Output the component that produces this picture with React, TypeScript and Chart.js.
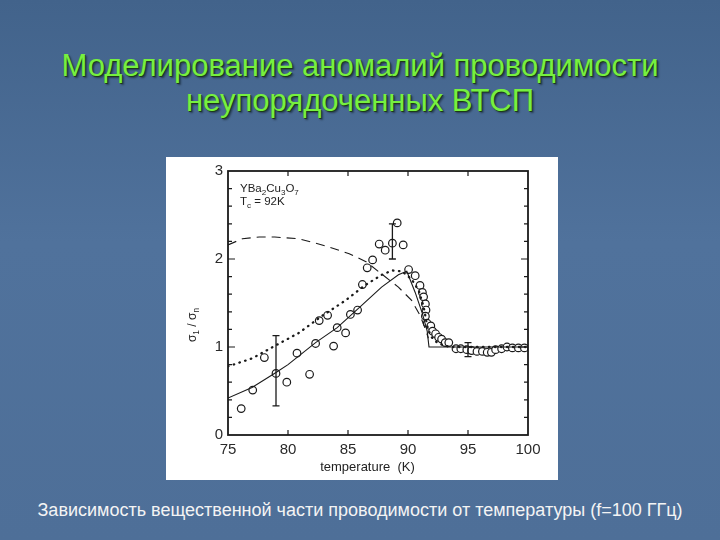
import React, { useEffect, useRef } from 'react';
import { Chart, registerables } from 'chart.js';

Chart.register(...registerables);

// measured circles
const obsT = [76.1, 77.06, 78.03, 79.0, 79.9, 80.75, 81.8, 82.3, 82.6, 83.3, 83.8, 84.1, 84.8, 85.2, 85.8, 86.2, 86.6, 87.05, 87.6, 88.1, 88.7, 89.1, 89.6, 90.05, 90.6, 91.0, 91.2, 91.3, 91.45, 91.5, 91.45, 91.6, 91.9, 92.05, 92.3, 92.55, 92.8, 93.1, 93.4, 94.0, 94.4, 94.9, 95.3, 95.75, 96.2, 96.6, 96.95, 97.3, 97.8, 98.25, 98.7, 99.2, 99.7];
const obsS = [0.30, 0.51, 0.88, 0.70, 0.60, 0.93, 0.69, 1.04, 1.30, 1.36, 1.01, 1.22, 1.16, 1.37, 1.42, 1.71, 1.90, 1.99, 2.17, 2.10, 2.18, 2.41, 2.16, 1.88, 1.81, 1.70, 1.62, 1.57, 1.49, 1.42, 1.35, 1.27, 1.24, 1.18, 1.15, 1.11, 1.09, 1.05, 1.05, 0.98, 0.98, 0.97, 0.96, 0.95, 0.95, 0.94, 0.94, 0.97, 0.98, 1.00, 0.99, 0.99, 0.99];

// solid theory curve
const solidT = [75, 77, 79, 80, 82.3, 84.1, 85.8, 87.8, 89.2, 89.9, 90.6, 91.2, 91.6, 91.75, 100];
const solidS = [0.42, 0.54, 0.71, 0.80, 1.05, 1.22, 1.43, 1.68, 1.82, 1.86, 1.62, 1.38, 1.18, 1.0, 1.0];

// dotted theory curve
const dottedT = [75, 77, 79, 80.9, 82.8, 84.8, 86.4, 87.8, 88.7, 89.5, 90.3, 90.9, 91.3, 91.6, 91.9, 92.5, 93.5, 100];
const dottedS = [0.78, 0.87, 1.02, 1.16, 1.35, 1.53, 1.70, 1.82, 1.87, 1.86, 1.77, 1.64, 1.46, 1.24, 1.12, 1.04, 1.0, 1.0];

// dashed theory curve
const dashedT = [75, 76.2, 77.6, 78.9, 80.9, 83.1, 85.1, 86.5, 87.8, 89.2, 90.3, 91.0, 91.4, 91.7];
const dashedS = [2.16, 2.23, 2.25, 2.25, 2.23, 2.15, 2.06, 1.97, 1.83, 1.68, 1.53, 1.36, 1.22, 1.10];

// error bars
const errT = [79.0, 88.7, 95.0];
const errLo = [0.33, 2.0, 0.89];
const errHi = [1.13, 2.4, 1.05];

const xMin = 75, xMax = 100, xStep = 5;
const yMin = 0, yMax = 3, yStep = 0.2;

const titleLines = ['Моделирование аномалий проводимости', 'неупорядоченных ВТСП'];
const caption = 'Зависимость вещественной части проводимости от температуры (f=100 ГГц)';
const xTitle = 'temperature  (K)';
const compound: [string, number][] = [['YBa', 0], ['2', 1], ['Cu', 0], ['3', 1], ['O', 0], ['7', 1]];
const tcLabel: [string, number][] = [['T', 0], ['c', 1], [' = 92K', 0]];
const yTitle: [string, number][] = [['σ', 0], ['1', 1], [' / ', 0], ['σ', 0], ['n', 1]];

const FONT = '"Liberation Sans", Arial, sans-serif';
const INK = '#1a1a1a';

function drawSegs(ctx: CanvasRenderingContext2D, segs: [string, number][], x: number, y: number, size: number) {
  let cx = x;
  segs.forEach(([t, sub]) => {
    const s = sub ? size * 0.7 : size;
    ctx.font = `${s}px ${FONT}`;
    ctx.fillText(t, cx, y + (sub ? size * 0.25 : 0));
    cx += ctx.measureText(t).width;
  });
  return cx - x;
}

function segWidth(ctx: CanvasRenderingContext2D, segs: [string, number][], size: number) {
  let w = 0;
  segs.forEach(([t, sub]) => {
    ctx.font = `${sub ? size * 0.7 : size}px ${FONT}`;
    w += ctx.measureText(t).width;
  });
  return w;
}

const framePlugin = {
  id: 'frame',
  afterDatasetsDraw(chart: any) {
    const { ctx, chartArea: a, scales } = chart;
    const x = scales.x, y = scales.y;
    ctx.save();
    ctx.strokeStyle = INK;
    ctx.fillStyle = INK;
    // error bars
    ctx.lineWidth = 1.3;
    errT.forEach((t, i) => {
      const px = x.getPixelForValue(t);
      const p1 = y.getPixelForValue(errLo[i]);
      const p2 = y.getPixelForValue(errHi[i]);
      ctx.beginPath();
      ctx.moveTo(px, p1); ctx.lineTo(px, p2);
      ctx.moveTo(px - 3.5, p1); ctx.lineTo(px + 3.5, p1);
      ctx.moveTo(px - 3.5, p2); ctx.lineTo(px + 3.5, p2);
      ctx.stroke();
    });
    // frame
    ctx.lineWidth = 1.8;
    ctx.strokeRect(a.left, a.top, a.right - a.left, a.bottom - a.top);
    // inward ticks
    ctx.lineWidth = 1.2;
    ctx.beginPath();
    y.ticks.forEach((t: any) => {
      const py = y.getPixelForValue(t.value);
      if (py <= a.top + 1 || py >= a.bottom - 1) return;
      const major = Math.abs(t.value - Math.round(t.value)) < 1e-6;
      const len = major ? 7 : 4;
      ctx.moveTo(a.left, py); ctx.lineTo(a.left + len, py);
      ctx.moveTo(a.right, py); ctx.lineTo(a.right - len, py);
    });
    x.ticks.forEach((t: any) => {
      const px = x.getPixelForValue(t.value);
      if (px <= a.left + 1 || px >= a.right - 1) return;
      ctx.moveTo(px, a.bottom); ctx.lineTo(px, a.bottom - 5);
      ctx.moveTo(px, a.top); ctx.lineTo(px, a.top + 5);
    });
    ctx.stroke();
    // annotation
    ctx.fillStyle = '#222';
    ctx.textBaseline = 'alphabetic';
    ctx.textAlign = 'left';
    drawSegs(ctx, compound, a.left + 12, a.top + 21, 11.5);
    drawSegs(ctx, tcLabel, a.left + 12, a.top + 34, 11.5);
    // x title
    ctx.font = `13px ${FONT}`;
    ctx.textAlign = 'center';
    ctx.fillText(xTitle, a.left + (a.right - a.left) * 0.465, a.bottom + 36);
    // y title
    ctx.save();
    const w = segWidth(ctx, yTitle, 12);
    ctx.translate(a.left - 32, (a.top + a.bottom) / 2 + 22);
    ctx.rotate(-Math.PI / 2);
    ctx.textAlign = 'left';
    drawSegs(ctx, yTitle, -w / 2, 0, 12);
    ctx.restore();
    ctx.restore();
  },
};

export default function App() {
  const ref = useRef<HTMLCanvasElement | null>(null);
  useEffect(() => {
    if (!ref.current) return;
    const pts = (xs: number[], ys: number[]) => xs.map((v, i) => ({ x: v, y: ys[i] }));
    const chart = new Chart(ref.current, {
      type: 'scatter',
      data: {
        datasets: [
          {
            data: pts(dashedT, dashedS), showLine: true, borderColor: INK, borderWidth: 1.1,
            borderDash: [9, 6], pointRadius: 0, tension: 0,
          },
          {
            data: pts(dottedT, dottedS), showLine: true, borderColor: INK, borderWidth: 2.3,
            borderDash: [0.5, 5.5], borderCapStyle: 'round', pointRadius: 0, tension: 0,
          },
          {
            data: pts(solidT, solidS), showLine: true, borderColor: INK, borderWidth: 1.1,
            pointRadius: 0, tension: 0,
          },
          {
            data: pts(obsT, obsS), showLine: false, pointStyle: 'circle', pointRadius: 3.8,
            pointBorderWidth: 1.2, pointBorderColor: INK, pointBackgroundColor: '#fff',
          },
        ] as any,
      },
      options: {
        animation: false,
        responsive: false,
        devicePixelRatio: 1,
        layout: { padding: { top: 7, right: 30, left: 0, bottom: 0 } },
        plugins: { legend: { display: false }, tooltip: { enabled: false } },
        scales: {
          x: {
            type: 'linear', min: xMin, max: xMax,
            grid: { display: false, drawTicks: false },
            border: { display: false },
            ticks: { stepSize: xStep, padding: 6, color: '#2a2a2a', font: { family: FONT, size: 15 } },
            afterFit: (s: any) => { s.height = 45; },
          },
          y: {
            type: 'linear', min: yMin, max: yMax,
            grid: { display: false, drawTicks: false },
            border: { display: false },
            ticks: {
              stepSize: yStep, padding: 5, color: '#2a2a2a', font: { family: FONT, size: 15 },
              autoSkip: false,
              callback: (v: any) => (Math.abs(v - Math.round(v)) < 1e-6 ? String(Math.round(v)) : ''),
            },
            afterFit: (s: any) => { s.width = 62; },
          },
        },
      } as any,
      plugins: [framePlugin],
    });
    return () => chart.destroy();
  }, []);

  return (
    <div style={{
      position: 'absolute', left: 0, top: 0, width: 720, height: 540, overflow: 'hidden',
      background: 'linear-gradient(180deg, #42638b 0%, #50729c 45%, #4e6f98 100%)',
      fontFamily: FONT,
    }}>
      <div style={{
        position: 'absolute', left: 0, top: 48, width: 720, textAlign: 'center',
        color: '#76f040', fontSize: 31, lineHeight: '35px',
        textShadow: '1px 1px 0 #1c3a18, 2px 2px 2px rgba(0,0,0,0.45)',
      }}>
        {titleLines.map((l, i) => <div key={i}>{l}</div>)}
      </div>
      <div style={{
        position: 'absolute', left: 166, top: 157, width: 392, height: 323, background: '#fff',
      }}>
        <canvas ref={ref} width={392} height={323} style={{ display: 'block', width: 392, height: 323 }} />
      </div>
      <div style={{
        position: 'absolute', left: 0, top: 498, width: 720, textAlign: 'center',
        color: '#f4f4f4', fontSize: 18, lineHeight: '24px',
        fontFamily: '"Liberation Sans Narrow", "Liberation Sans", Arial, sans-serif',
      }}>
        {caption}
      </div>
    </div>
  );
}
